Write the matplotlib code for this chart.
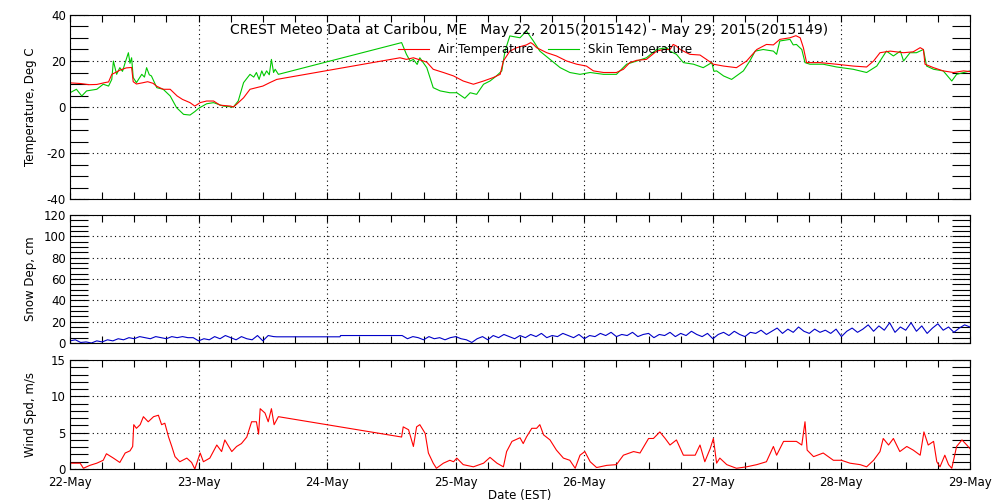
import matplotlib
matplotlib.use("Agg")
import matplotlib.pyplot as plt
import numpy as np
from matplotlib.ticker import MultipleLocator

# Hours since 22-May 00:00 EST
air = [(0, 10.5), (2, 10.2), (3.5, 9.7), (5, 9.8), (6.5, 10.6), (7.2, 10.9), (7.8, 14.2),
       (8.5, 15), (9.3, 16), (10.5, 17), (11.5, 17.2), (11.8, 11), (12.4, 10), (13.5, 10.5),
       (14.5, 11), (15.5, 10.3), (16.2, 9), (17.4, 7.7), (18.7, 7.7), (20, 4.8), (21, 3.3),
       (22.4, 1.9), (23.3, 0.4), (24.3, 1.9), (25.5, 2.6), (26.8, 2.6), (28, 0.8), (30, 0.4),
       (30.5, 0), (31.1, 1.2), (32.4, 4), (33.6, 7.7), (34.8, 8.4), (36, 9.1), (37.3, 10.6),
       (38.6, 12),
       (61.6, 21.4), (62.8, 20.7), (64.1, 21.4), (65.3, 20.5), (66.6, 19.5), (67.8, 16.4),
       (69.7, 15), (71.6, 13.5), (73.4, 11.3), (75.3, 9.9), (77.2, 11.3), (79, 12.8),
       (80.3, 14.2), (80.9, 20), (82.1, 24.3), (83.4, 25.8), (85.2, 27), (86, 28), (86.5, 27.2),
       (87.1, 25.8), (89, 23.6), (90.8, 22.2), (92.7, 20), (94.6, 18.6), (96.4, 17.8),
       (97.7, 15.7), (99.6, 15), (102, 15), (103.3, 16.4), (104.5, 19.3), (105.8, 20.3),
       (107.6, 20.7), (109.5, 24.3), (110.8, 25), (112, 25), (112.6, 27.2), (113.2, 26.5),
       (113.9, 25), (115.7, 22.9), (117.6, 22.6), (118.8, 20.7), (120.1, 18.6), (122, 17.8),
       (124.4, 17.1), (126.3, 20), (128.2, 25), (130, 27.2), (131.3, 27), (132.5, 29.4),
       (134.4, 30.1), (135.5, 31), (136.3, 30.1), (136.9, 25.8), (137.5, 19.3), (140, 19.3),
       (143.1, 18.6), (146.2, 17.8), (148.7, 17.4), (150, 20), (151.2, 23.6), (153.1, 24.3),
       (155.6, 23.6), (157.4, 24), (158.7, 25.8), (159.3, 25), (159.6, 18.6), (161.2, 17.1),
       (163, 15.7), (164.9, 15), (166.8, 15.7), (168, 15.4)]

skin = [(0, 6.2), (1.2, 7.7), (2.2, 4.8), (3.1, 7), (5, 7.7), (6.2, 9.9), (7.2, 9.1),
        (7.8, 12), (8.1, 20), (8.7, 14.2), (9.3, 17.1), (9.8, 15.5), (10.3, 19.3),
        (10.9, 23.6), (11.2, 19), (11.5, 21.4), (11.8, 12.8), (12.4, 10.6), (13.4, 14.2),
        (13.9, 13), (14.3, 17.1), (14.8, 14), (15.2, 13.5), (16.2, 8.4), (17.4, 7.7),
        (18.7, 4.8), (19.9, -0.3), (21.2, -3.2), (22.4, -3.5), (23.3, -2), (24, -0.6),
        (25.5, 1.4), (26.8, 1.9), (28.6, 0.4), (30.5, 0), (31.4, 2.6), (32.4, 10.6),
        (33.6, 14.2), (34.3, 13), (34.8, 15), (35.3, 12), (35.8, 15.7), (36.2, 13.5),
        (36.7, 15.7), (37.2, 14), (37.6, 20.7), (38, 15), (38.3, 16.4), (38.9, 14.2),
        (61.9, 28), (62.8, 22.9), (63.5, 20), (64.1, 20.7), (64.8, 18.5), (65.3, 21.4),
        (66.6, 17.1), (67.8, 8.4), (69.1, 7), (70.9, 6.2), (72.2, 6.2), (73.7, 3.8),
        (74.7, 6.2), (75.9, 5.5), (77.2, 9.9), (78.4, 11.3), (79.6, 13.5), (80.6, 15.7),
        (81.2, 24.3), (82.1, 30.9), (84, 30.1), (85.2, 33), (86.5, 28.7), (87.7, 24.3),
        (89.6, 20.7), (91.5, 17.1), (93.3, 15), (95.2, 14.2), (97.1, 15), (99.6, 14.2),
        (102, 14.2), (103.9, 18.6), (105.8, 20), (107.6, 21.4), (109.5, 25), (111.4, 25.8),
        (112, 24.3), (113.2, 22.9), (114.5, 19.3), (116.4, 18.6), (118.2, 17.1),
        (119.8, 19.3), (120.2, 15.5), (120.7, 15.7), (122, 13.5), (123.5, 12), (124.4, 13.5),
        (125.7, 15.7), (126.9, 20), (127.9, 24.3), (129.4, 25), (131.3, 24.3), (131.9, 22.9),
        (132.5, 28.7), (134.4, 29.4), (135, 27), (135.6, 27.2), (136.6, 25), (137.2, 19.3),
        (138.1, 18.6), (140.6, 18.6), (143.1, 17.4), (146.2, 16.4), (148.7, 15),
        (150.6, 17.8), (152.4, 24.3), (153.7, 22.2), (155, 24.3), (155.6, 20), (156.8, 23.6),
        (158, 23.6), (159.3, 25), (159.9, 17.8), (161.2, 16.4), (163, 15.7), (164.6, 11.3),
        (165.5, 14.2), (166.8, 15), (168, 15.7)]

# snow depth, hourly from hour 0, then the gap, then hourly from hour 62
snow_a = [2, 3, 0.5, 1, 0, 2, 1, 3, 2, 4, 3, 5, 4, 6, 5, 4, 6, 5, 4, 6, 5, 6, 5, 5, 2,
          4, 3, 6, 4, 7, 5, 3, 6, 4, 3, 7, 2, 7, 6]
snow_gap = [(38.6, 5.8), (50.4, 5.8), (50.5, 7.0)]
snow_b = [7, 4, 6, 5, 3, 6, 4, 5, 3, 5, 6, 4, 3, 0.5, 4, 6, 3, 7, 5, 8, 6, 4, 7, 5, 8,
          6, 9, 5, 7, 6, 9, 7, 5, 8, 4, 7, 6, 9, 7, 10, 6, 8, 7, 10, 6, 8, 9, 5, 8, 7,
          10, 6, 9, 7, 11, 8, 6, 9, 4, 8, 10, 7, 11, 8, 6, 10, 9, 12, 8, 11, 14, 9, 13,
          10, 15, 11, 9, 13, 10, 12, 9, 13, 6, 11, 14, 10, 13, 17, 11, 16, 12, 19, 10, 15,
          12, 19, 11, 16, 9, 14, 18, 12, 15, 10, 14, 17, 15]

wind = [(0, 0.8), (1.9, 0.8), (2.5, 0.1), (3.7, 0.5), (5, 0.8), (6.2, 1.2), (6.8, 2.1),
        (8.1, 1.5), (9.3, 0.9), (10.3, 2.2), (11.2, 2.5), (11.7, 3.1), (11.9, 6.1),
        (12.4, 5.6), (13.1, 6.1), (13.7, 7.2), (14.6, 6.5), (15.6, 7.2), (16.5, 7.4),
        (17.1, 6.1), (17.7, 6.3), (18.4, 4.4), (19, 3.1), (19.6, 1.7), (20.5, 1.0),
        (21.8, 1.5), (22.7, 0.9), (23.3, 0), (24.3, 2.2), (24.9, 1.0), (26.1, 1.5),
        (27.4, 3.3), (28.3, 2.4), (28.9, 4.0), (30.2, 2.4), (31.1, 3.1), (32, 3.5),
        (33, 4.4), (33.9, 6.5), (34.8, 6.5), (35.2, 4.8), (35.5, 8.3), (36.4, 7.7),
        (37, 6.5), (37.6, 8.3), (38.1, 6.1), (38.9, 7.2),
        (61.9, 4.4), (62.2, 5.8), (63.2, 5.4), (64.1, 3.1), (64.7, 5.8), (65.3, 6.1),
        (66.3, 4.9), (66.9, 2.2), (67.8, 0.8), (68.4, 0.1), (69.7, 0.8), (70.9, 1.2),
        (71.6, 1.0), (72.2, 1.5), (73.4, 0.6), (75.3, 0.3), (77.2, 0.8), (78.4, 1.6),
        (79.7, 0.8), (80.9, 0.3), (81.5, 2.4), (82.5, 3.8), (84, 4.3), (84.6, 3.5),
        (85.2, 4.4), (86.2, 5.6), (87.1, 5.6), (87.7, 6.1), (88.4, 4.7), (89.6, 4.0),
        (90.8, 2.6), (92.1, 1.5), (93.3, 1.2), (94.3, 0.1), (95.2, 1.9), (96.1, 2.4),
        (97.1, 1.0), (98.3, 0.2), (100.2, 0.5), (102, 0.6), (103.3, 1.9), (105.2, 2.4),
        (106.4, 2.2), (108, 4.2), (108.9, 4.2), (110.1, 5.1), (111.1, 4.2), (112, 3.3),
        (113.2, 4.0), (114.5, 1.9), (115.7, 1.9), (116.7, 1.9), (117.6, 3.3), (118.5, 1.0),
        (119.5, 2.8), (120.1, 4.2), (120.7, 0.8), (121.3, 1.5), (122.6, 0.6), (124.4, 0.1),
        (126.3, 0.3), (128.2, 0.6), (130, 1.0), (131.3, 3.1), (131.9, 1.9), (133.2, 3.8),
        (134.4, 3.8), (135.6, 3.8), (136.6, 3.3), (137.2, 6.5), (137.6, 2.6), (138.8, 1.7),
        (140.6, 2.2), (142.5, 1.2), (144, 1.2), (145.6, 0.8), (147.5, 0.6), (148.7, 0.3),
        (150, 1.2), (151.2, 2.4), (151.8, 4.2), (152.8, 3.3), (153.7, 4.2), (154.9, 2.4),
        (156.2, 3.1), (157.4, 2.6), (158.7, 1.9), (159.4, 5.1), (160.2, 3.3), (161.2, 3.8),
        (161.8, 1.0), (162.4, 0.3), (163.3, 1.9), (164, 0.6), (164.6, 0.1), (165.5, 3.1),
        (166.5, 4.0), (167.4, 3.3), (168, 2.8)]

day_labels = ["22-May", "23-May", "24-May", "25-May", "26-May", "27-May", "28-May", "29-May"]
title = "CREST Meteo Data at Caribou, ME   May 22, 2015(2015142) - May 29, 2015(2015149)"

air_hr, air_t = np.array(air).T
skin_hr, skin_t = np.array(skin).T
wind_hr, wind_v = np.array(wind).T
gap_hr, gap_v = np.array(snow_gap).T
snow_hr = np.concatenate([np.arange(len(snow_a)), gap_hr, 62 + np.arange(len(snow_b))])
snow_v = np.concatenate([snow_a, gap_v, snow_b])

plt.rcParams["axes.unicode_minus"] = False
plt.rcParams["font.family"] = "DejaVu Sans"

fig = plt.figure(figsize=(10, 5), dpi=100)
ax1 = fig.add_axes([0.07, 0.602, 0.90, 0.368])
ax2 = fig.add_axes([0.07, 0.314, 0.90, 0.256])
ax3 = fig.add_axes([0.07, 0.062, 0.90, 0.218])


def style(ax, lo, hi, major, minor, label):
    ax.set_xlim(0, 7)
    ax.set_ylim(lo, hi)
    ax.set_xticks(np.arange(len(day_labels)))
    ax.xaxis.set_minor_locator(MultipleLocator(0.25))
    ax.set_yticks(np.arange(lo, hi + major / 2, major))
    ax.yaxis.set_minor_locator(MultipleLocator(minor))
    ax.tick_params(axis="x", which="both", direction="in", top=True, bottom=True,
                   length=5, width=0.8, labelbottom=False)
    ax.tick_params(axis="y", which="both", direction="in", left=True, right=True,
                   length=13, width=0.8, labelsize=8.5, pad=3)
    ax.grid(True, which="major", color="k", linestyle=(0, (1, 3)), linewidth=0.8)
    for s in ax.spines.values():
        s.set_linewidth(0.8)
    ax.set_ylabel(label, fontsize=8.5)
    ax.yaxis.set_label_coords(-0.037, 0.5)


style(ax1, -40, 40, 20, 5, "Temperature, Deg C")
style(ax2, 0, 120, 20, 5, "Snow Dep, cm")
style(ax3, 0, 15, 5, 1, "Wind Spd, m/s")

ax1.plot(skin_hr / 24, skin_t, color="#00c800", lw=0.8, label="Skin Temperature")
ax1.plot(air_hr / 24, air_t, color="#ff0000", lw=0.8, label="Air Temperature")
handles, labels = ax1.get_legend_handles_labels()
ax1.legend(handles[::-1], labels[::-1], ncol=2, loc="center",
           bbox_to_anchor=(0.545, 0.9), bbox_transform=fig.transFigure, frameon=False,
           fontsize=8.5, handlelength=2.6, handletextpad=0.75, columnspacing=1.3,
           borderpad=0)

ax2.plot(snow_hr / 24, snow_v, color="#0000c8", lw=0.8)
ax3.plot(wind_hr / 24, wind_v, color="#ff0000", lw=0.8)

ax3.tick_params(axis="x", labelbottom=True, labelsize=8.5, pad=5)
ax3.set_xticklabels(day_labels)
ax3.set_xlabel("Date (EST)", fontsize=8.5, labelpad=0)

fig.text(0.529, 0.94, title, ha="center", va="center", fontsize=10)

fig.savefig("out.png", dpi=100)
